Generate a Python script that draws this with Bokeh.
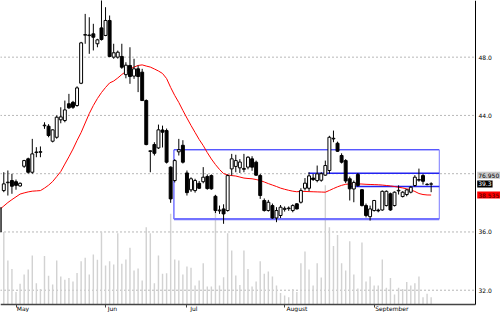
import numpy as np
from bokeh.plotting import figure
from bokeh.models import (Range1d, FixedTicker, ColumnDataSource, Label,
                          NumeralTickFormatter, LinearAxis)
from bokeh.embed import file_html
from bokeh.resources import INLINE

# ---------------- data (trading-day index, prices) ----------------
bar_index = list(range(-1, 106))

opens = [36.00,
 38.84, 39.38, 39.53, 39.45, 39.16, 40.51, 41.02, 40.10, 41.45, 41.47,
 43.29, 43.26, 42.23, 42.50, 43.70, 43.65, 44.80, 44.90, 44.68, 46.21,
 49.51, 49.48, 49.60, 48.92, 50.01, 49.49, 50.52, 48.00, 48.00, 48.05,
 46.80, 47.43, 46.70, 47.20, 46.97, 45.02, 41.53, 42.00, 41.77, 43.00,
 42.96, 40.45, 39.53, 41.50, 41.95, 40.05, 38.89, 38.84, 39.34, 39.45,
 39.80, 39.87, 38.45, 37.45, 37.58, 37.47, 40.33, 40.50, 40.40, 40.30,
 40.45, 41.02, 40.79, 39.87, 38.16, 37.47, 37.81, 36.96, 37.13, 37.55,
 37.60, 37.47, 37.93, 38.04, 39.00, 39.00, 39.70, 39.53, 39.55, 39.90,
 40.22, 42.39, 42.09, 41.25, 40.90, 39.65, 38.95, 39.95, 38.90, 37.81,
 37.05, 37.47, 37.50, 37.51, 37.81, 38.62, 37.81, 38.82, 38.43, 38.57,
 38.73, 39.19, 39.55, 39.87, 39.27, 39.28]

highs = [37.70,
 40.10, 40.22, 39.99, 39.60, 39.40, 40.95, 41.10, 42.39, 41.82, 41.87,
 43.53, 43.40, 43.05, 44.00, 44.56, 45.02, 45.48, 45.00, 46.00, 49.05,
 50.97, 50.74, 50.29, 49.26, 52.30, 51.43, 50.86, 48.92, 48.45, 48.92,
 47.65, 48.68, 47.89, 47.43, 47.20, 45.10, 41.60, 42.16, 43.37, 43.30,
 43.10, 40.50, 41.00, 42.39, 42.30, 40.22, 39.75, 39.65, 39.50, 40.45,
 39.95, 39.95, 38.55, 37.81, 37.90, 39.95, 41.36, 41.30, 41.00, 41.36,
 41.20, 41.20, 40.90, 39.99, 38.30, 38.20, 37.95, 37.70, 37.85, 37.75,
 37.75, 37.90, 37.98, 39.00, 39.70, 40.10, 39.99, 40.56, 40.10, 40.90,
 42.60, 42.96, 42.20, 41.40, 41.00, 39.80, 39.53, 40.05, 38.95, 37.95,
 37.81, 38.20, 37.60, 38.85, 38.85, 38.70, 38.78, 39.20, 38.80, 38.95,
 39.15, 39.90, 40.35, 39.99, 39.35, 39.41]

lows = [35.95,
 38.73, 38.50, 38.62, 38.90, 39.10, 40.40, 40.00, 39.99, 41.13, 41.13,
 43.08, 42.50, 42.15, 42.40, 43.46, 43.53, 44.45, 44.45, 44.60, 46.15,
 48.92, 48.23, 48.46, 48.68, 49.14, 49.44, 48.00, 47.89, 47.90, 47.20,
 46.55, 46.17, 46.51, 45.60, 45.00, 41.95, 40.10, 41.25, 41.70, 41.80,
 40.70, 38.00, 39.40, 41.25, 40.70, 38.50, 38.75, 38.70, 38.95, 39.34,
 38.90, 38.90, 37.30, 37.24, 36.56, 37.40, 39.87, 40.10, 40.05, 40.10,
 40.30, 40.20, 39.85, 38.27, 37.40, 37.40, 36.90, 36.67, 36.95, 37.40,
 37.45, 37.35, 37.55, 37.95, 38.85, 38.80, 39.50, 39.41, 39.45, 39.85,
 40.00, 42.16, 41.50, 40.70, 39.35, 38.16, 38.04, 39.10, 37.75, 37.00,
 36.78, 37.40, 37.35, 37.45, 37.75, 37.45, 37.75, 38.57, 38.37, 38.45,
 38.65, 39.10, 39.45, 39.25, 39.20, 38.73]

closes = [37.68,
 39.30, 39.42, 39.14, 39.20, 39.34, 40.90, 40.10, 41.36, 41.49, 41.51,
 43.33, 42.62, 43.01, 43.88, 43.90, 44.38, 44.52, 44.56, 45.89, 48.98,
 49.55, 49.52, 49.37, 49.19, 49.21, 50.52, 48.05, 48.30, 48.34, 47.31,
 47.45, 46.67, 47.20, 46.67, 45.02, 42.00, 41.57, 41.40, 43.01, 42.85,
 40.79, 38.27, 40.90, 41.65, 40.79, 38.70, 39.65, 39.53, 39.00, 39.76,
 38.98, 38.96, 37.47, 37.50, 37.24, 39.87, 41.02, 40.90, 40.80, 40.36,
 41.13, 40.45, 39.90, 38.50, 37.47, 38.04, 36.96, 37.47, 37.70, 37.62,
 37.64, 37.81, 37.58, 38.84, 39.35, 39.85, 39.60, 39.99, 40.00, 40.56,
 42.50, 42.43, 41.54, 40.79, 39.50, 38.96, 39.40, 39.19, 37.81, 37.13,
 37.58, 38.16, 37.45, 38.79, 38.79, 37.51, 38.73, 38.86, 38.73, 38.89,
 39.07, 39.76, 39.60, 39.48, 39.25, 39.30]

moving_avg = [37.55,
 37.78, 38.02, 38.22, 38.41, 38.60, 38.68, 38.75, 38.80, 38.82, 38.84,
 39.01, 39.21, 39.46, 39.80, 40.15, 40.66, 41.16, 41.69, 42.28, 42.83,
 43.48, 44.13, 44.68, 45.16, 45.57, 45.92, 46.23, 46.36, 46.57, 46.81,
 47.01, 47.19, 47.32, 47.43, 47.47, 47.39, 47.32, 47.19, 47.05, 46.88,
 46.53, 45.92, 45.37, 44.89, 44.34, 43.82, 43.31, 42.83, 42.35, 41.93,
 41.45, 41.01, 40.63, 40.29, 40.01, 39.91, 39.87, 39.84, 39.77, 39.70,
 39.67, 39.65, 39.60, 39.53, 39.43, 39.32, 39.22, 39.12, 39.01, 38.93,
 38.86, 38.80, 38.76, 38.79, 38.78, 38.77, 38.76, 38.75, 38.74, 38.73,
 38.85, 38.98, 39.10, 39.20, 39.27, 39.30, 39.31, 39.30, 39.29, 39.27,
 39.26, 39.25, 39.24, 39.22, 39.19, 39.16, 39.12, 39.07, 39.02, 38.96,
 38.89, 38.78, 38.64, 38.57, 38.54, 38.535]

volume_k = [1500,
 1810, 1100, 890, 310, 520, 750, 875, 1225, 530, 390,
 1210, 720, 500, 1100, 700, 620, 660, 575, 790, 1080,
 1170, 750, 1250, 1120, 1810, 975, 1080, 1000, 1780, 1020,
 1125, 1420, 850, 900, 600, 1930, 1780, 530, 1225, 770,
 780, 2270, 1125, 1100, 750, 950, 920, 475, 600, 1030,
 450, 450, 2600, 475, 680, 1780, 1350, 725, 490, 1350,
 890, 450, 575, 1080, 770, 825, 700, 475, 290, 225,
 180, 390, 310, 1030, 1325, 875, 475, 1030, 675, 2980,
 1930, 1460, 1740, 1030, 850, 1580, 750, 400, 1550, 575,
 700, 475, 475, 1125, 420, 660, 250, 420, 390, 560,
 475, 530, 700, 180, 270, 180]

month_idx = [3, 25, 45, 69, 91]
month_names = ["May", "Jun", "Jul", "August", "September"]

price_ticks = [32, 36, 40, 44, 48]

# drawn channel box and two horizontal lines (index units / price)
box_left, box_right = 41.8, 107.0
box_top, box_bottom = 41.64, 36.88
hline_starts = [74.9, 84.8]
hline_ends = [107.0, 107.0]
hline_levels = [40.03, 39.12]

indicator_text = "76.950"
indicator_level = 39.9

# window of the chart area (index / price)
x_first, x_last = -0.81, 115.9
p_low, p_high = 31.02, 51.89

FONT = "DejaVu Sans"
FS = "6px"
BAR_PX = 4.07          # pixel pitch of one trading day at this size
PRICE_PX = 14.5625     # pixels per price unit
CHAR_PX = 3.6          # approx. average glyph width at 6px
W, H = 500, 312
PANEL_B = 8            # room below the chart for month names (px)

# ---------------- figure ----------------
x_end = x_first + W / BAR_PX
y_start = p_low - PANEL_B / PRICE_PX
p = figure(width=W, height=H, x_range=Range1d(x_first, x_end),
           y_range=Range1d(y_start, p_high), x_axis_location=None,
           y_axis_location=None, toolbar_location=None, output_backend="svg",
           min_border=0)
p.outline_line_color = None
p.background_fill_color = "white"
p.border_fill_color = "white"
p.xgrid.visible = False
p.ygrid.visible = False

vol_per_px = 25.0
p.extra_y_ranges = {"vol": Range1d(-PANEL_B * vol_per_px, (H - PANEL_B) * vol_per_px)}

# dotted price grid, only across the chart area
p.segment(x0=[x_first] * len(price_ticks), x1=[x_last] * len(price_ticks),
          y0=price_ticks, y1=price_ticks, line_color="#707070",
          line_dash="1 3", line_width=1)

# volume
p.vbar(x=bar_index, top=volume_k, bottom=0, width=0.35, y_range_name="vol",
       fill_color="#d2d2d2", line_color=None)

# channel box
p.segment(x0=[box_left, box_left, box_right], y0=[box_top, box_top, box_top],
          x1=[box_right, box_left, box_right], y1=[box_top, box_bottom, box_bottom],
          line_color=["#1010ff", "#3030ff", "#7a7aff"], line_width=1)
p.segment(x0=[box_left], y0=[box_bottom], x1=[box_right], y1=[box_bottom],
          line_color="#7272ff", line_width=2.2)
p.segment(x0=hline_starts, y0=hline_levels, x1=hline_ends, y1=hline_levels,
          line_color="#2323f0", line_width=1.4)

# moving average
p.line(bar_index, moving_avg, line_color="#ff0000", line_width=1)

# candles
up = [c >= o for o, c in zip(opens, closes)]
body_top = [max(o, c) for o, c in zip(opens, closes)]
body_bot = [min(o, c) for o, c in zip(opens, closes)]
src = ColumnDataSource(dict(
    i=bar_index, h=highs, l=lows, t=body_top, b=body_bot,
    fill=["white" if u else "black" for u in up]))
p.segment(x0="i", y0="h", x1="i", y1="l", source=src, line_color="black",
          line_width=1)
p.vbar(x="i", top="t", bottom="b", width=0.72, source=src, fill_color="fill",
       line_color="black", line_width=1)

# x axis: minor ticks mark the month starts, labels sit to the right of them
label_pos = [m + (1.5 + 0.5 * CHAR_PX * len(n)) / BAR_PX
             for m, n in zip(month_idx, month_names)]
xaxis = LinearAxis(fixed_location=p_low, bounds=(x_first, x_last),
                   ticker=FixedTicker(ticks=label_pos, minor_ticks=month_idx),
                   major_label_overrides={pos: n for pos, n in zip(label_pos, month_names)},
                   major_tick_out=0, major_tick_in=0,
                   minor_tick_out=3, minor_tick_in=0,
                   minor_tick_line_color="#444444",
                   axis_line_color="#444444", axis_line_width=1.5,
                   major_label_standoff=-2, major_label_text_font=FONT,
                   major_label_text_font_size=FS, major_label_text_color="black")
p.add_layout(xaxis, "below")

yaxis = LinearAxis(fixed_location=x_last, bounds=(p_low, p_high),
                   ticker=FixedTicker(ticks=price_ticks),
                   formatter=NumeralTickFormatter(format="0.0"),
                   major_label_overrides={40: ""},
                   major_tick_out=0, major_tick_in=0,
                   minor_tick_line_color=None, axis_line_color="black",
                   major_label_standoff=3, major_label_text_font=FONT,
                   major_label_text_font_size=FS, major_label_text_color="black")
p.add_layout(yaxis, "right")

# value tags on the right
tag_x = x_last + 1.7 / BAR_PX
tags = [
    (indicator_text, indicator_level, "#c8c8c8", "black"),
    (f"{closes[-1]:.1f}", closes[-1], "black", "white"),
    (f"{moving_avg[-1]:.3f}", moving_avg[-1], "#ff0000", "#3a0000"),
]
for txt, lvl, bg, fg in tags:
    p.add_layout(Label(x=tag_x, y=lvl, x_units="data", y_units="data", text=txt,
                       text_font=FONT, text_font_size=FS, text_color=fg,
                       text_baseline="middle", text_align="left",
                       background_fill_color=bg, padding=1))

open("out.html", "w").write(file_html(p, INLINE))
